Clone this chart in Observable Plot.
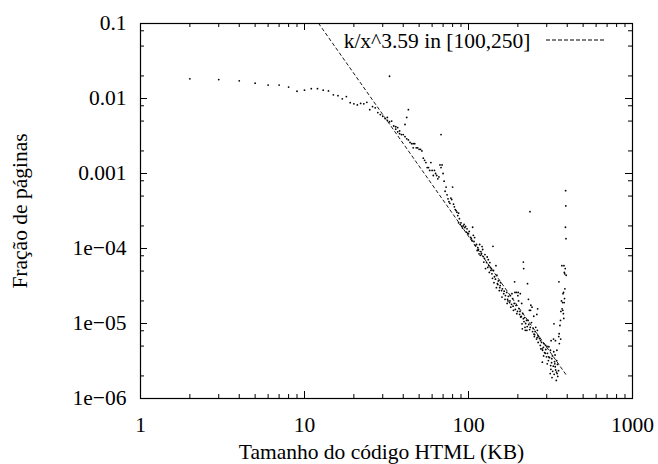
<!DOCTYPE html>
<html><head><meta charset="utf-8">
<script src="https://cdn.jsdelivr.net/npm/d3@7"></script>
<script src="https://cdn.jsdelivr.net/npm/@observablehq/plot@0.6"></script>
<style>
html,body{margin:0;padding:0;background:#fff;}
#chart svg, #chart svg text { font-family: "Liberation Serif", "Times New Roman", Times, "DejaVu Serif", "Noto Serif", serif !important; }
</style></head><body><div id="chart"></div>
<script>
// page size (KB) and fraction of pages
const sizeKB = [
  2,3,4,5,6,7,8,9,10,11,
  12,13,14,15,16,17,18,19,20,21,
  22,23,24,
  25,26,27,28,29,30,31,32,32,33,
  33,34,35,36,36,37,37,38,38,39,
  40,41,41,42,42,43,43,44,45,46,
  46,47,48,49,50,51,52,53,54,55,
  56,57,58,59,60,61,62,63,64,65,
  66,67,68,68,69,70,71,72,73,74,75,
  76,77,78,79,80,81,82,83,84,85,
  86,87,87,88,89,90,91,92,93,94,
  95,96,97,98,99,
  100,101,103,104,105,106,107,108,109,110,
  112,113,114,115,116,117,118,119,120,121,
  122,123,124,125,126,127,129,130,131,132,
  133,134,135,136,137,138,139,140,141,142,
  143,144,146,147,148,149,150,151,152,154,
  155,156,157,159,160,161,164,165,167,168,
  171,172,173,174,175,178,179,180,181,183,
  184,186,187,188,190,191,192,193,195,196,
  197,199,200,201,202,203,205,206,207,208,
  210,211,212,213,214,216,216,217,218,220,
  221,222,223,226,227,228,229,231,232,233,
  235,236,237,238,239,240,242,244,246,248,
  250,251,252,253,255,257,260,261,262,263,
  264,265,266,268,271,274,275,276,279,281,
  282,283,286,287,288,291,294,295,296,299,
  301,302,303,307,308,309,312,315,316,317,
  318,319,321,322,323,325,326,329,330,331,
  332,333,335,336,337,338,339,340,343,344,
  345,346,347,349,350,354,355,356,357,358,
  361,364,365,366,369,371,372,375,376,377,
  379,380,381,382,383,384,385,386,387,389,
  390,391,392,393,394
];
const fraction = [
  0.0183,0.0179,0.0172,0.016,0.0151,0.0151,0.0142,0.0125,0.0129,0.0135,
  0.0135,0.0129,0.0126,0.0112,0.0109,0.0099,0.0106,0.0088,0.0085,0.0082,
  0.0086,0.0085,0.0089,
  0.0071,0.0078,0.0075,0.0065,0.0061,0.0058,0.0054,0.0056,0.0051,0.0049,
  0.0198,0.005,0.0043,0.0042,0.0039,0.0041,0.0036,0.0037,0.0034,0.0033,
  0.0033,0.0031,0.0045,0.0056,0.0029,0.0071,0.0028,0.0026,0.0025,0.0025,
  0.0022,0.0025,0.0022,0.0022,0.0021,0.0021,0.002,0.0016,0.0015,0.0014,
  0.0012,0.0012,0.0011,0.0014,0.0011,0.00094,0.0011,0.001,0.00094,0.00085,
  0.0009,0.0013,0.0012,0.0033,0.0013,0.001,0.00079,0.00058,0.00066,0.00052,0.00046,
  0.00042,0.0004,0.00047,0.00045,0.00066,0.00039,0.00036,0.00033,0.00032,0.000305,
  0.000275,0.000296,0.00022,0.00025,0.00021,0.00022,0.000197,0.000187,0.0002,0.00021,
  0.00019,0.000197,0.000165,0.000183,0.00016,
  1.57e-4,1.69e-4,1.41e-4,1.36e-4,1.28e-4,1.92e-4,1.5e-4,1.24e-4,1.4e-4,1.1e-4,
  1.13e-4,9.4e-5,1.03e-4,9.7e-5,8.5e-5,1.13e-4,8.1e-5,9.1e-5,8.6e-5,1.06e-4,
  9.7e-5,7.8e-5,6.6e-5,7.4e-5,8.3e-5,5.4e-5,6.5e-5,7.7e-5,5.6e-5,7.1e-5,
  5.9e-5,4.8e-5,6.5e-5,5.6e-5,5.1e-5,5.4e-5,4.6e-5,4.0e-5,1.07e-4,5.1e-5,
  3.5e-5,4.2e-5,3.9e-5,5.9e-5,3.0e-5,4.4e-5,3.4e-5,3.3e-5,3.7e-5,2.75e-5,
  3.0e-5,3.2e-5,3.5e-5,2.75e-5,2.25e-5,2.9e-5,2.5e-5,2.7e-5,2.1e-5,2.36e-5,
  2.6e-5,1.85e-5,2.1e-5,2.0e-5,2.3e-5,1.9e-5,2.0e-5,2.35e-5,1.65e-5,1.8e-5,
  2.5e-5,2.15e-5,1.7e-5,1.5e-5,1.85e-5,3.6e-5,2.6e-5,1.54e-5,1.74e-5,2.6e-5,
  1.35e-5,1.45e-5,2.35e-5,2.6e-5,2.0e-5,1.58e-5,1.32e-5,1.45e-5,2.5e-5,1.22e-5,
  1.24e-5,1.85e-5,9.9e-6,8.5e-6,1.36e-5,1.16e-5,6.6e-5,5.4e-5,1.06e-5,1.2e-5,
  8.9e-6,8.1e-6,1.0e-5,1.1e-5,8.1e-6,9.1e-6,3.4e-5,1.1e-5,2.1e-5,9.7e-6,
  1.5e-5,8.3e-6,3.1e-4,8.9e-6,1.5e-5,1.75e-5,1.03e-5,1.65e-5,7.8e-6,8.6e-6,
  1.25e-5,7.2e-6,6.7e-6,7.1e-6,7.8e-6,8.9e-6,6.2e-6,1.32e-5,6.5e-6,8.1e-6,
  1.57e-5,6.9e-6,5.6e-6,6.7e-6,6.3e-6,5.1e-6,5.9e-6,4.6e-6,5.6e-6,4.6e-6,
  3.05e-6,4.4e-6,4.8e-6,3.7e-6,5.4e-6,4.1e-6,4.0e-6,5.1e-6,4.5e-6,3.6e-6,
  4.95e-6,2.9e-6,4.0e-6,3.2e-6,3.6e-6,4.9e-6,3.5e-6,2.15e-6,4.4e-6,2.75e-6,
  2.45e-6,5.9e-6,3.0e-6,3.4e-6,1.9e-6,3.7e-6,2.3e-6,2.7e-6,6.2e-6,4.2e-6,
  9.9e-6,2.1e-6,3.1e-6,2.9e-6,3.8e-6,2.65e-6,5.9e-6,2.4e-6,1.74e-6,2.25e-6,
  3.2e-6,4.4e-6,2.15e-6,2.85e-6,1.97e-6,2.35e-6,6.7e-6,3.6e-5,7.3e-6,5.4e-6,
  9.4e-6,1.1e-5,6.2e-6,1.45e-5,2.0e-5,5.9e-5,1.57e-5,1.9e-5,1.5e-5,2.5e-5,
  1.35e-5,2.6e-5,1.17e-5,5.9e-5,1.9e-5,4.8e-5,2.15e-5,4.6e-5,2.9e-5,5.4e-5,
  1.92e-4,5.9e-4,3.7e-4,1.35e-4,4.4e-5
];
// fitted power law line (as drawn), ends
const fitKB = [12.2, 392];
const fitFraction = [0.1, 2.1e-6];
const fitLabel = "k/x^3.59 in [100,250]";

const xMajorTicks = [1, 10, 100, 1000];
const xTickLabels = ["1", "10", "100", "1000"];
const xMinorTicks = [2,3,4,5,6,7,8,9,20,30,40,50,60,70,80,90,200,300,400,500,600,700,800,900];
const yMajorTicks = [1e-6, 1e-5, 1e-4, 1e-3, 1e-2, 1e-1];
const yTickLabels = ["1e\u221206", "1e\u221205", "1e\u221204", "0.001", "0.01", "0.1"];
const yMinorTicks = [2e-6,5e-6,8e-6,2e-5,5e-5,8e-5,2e-4,5e-4,8e-4,2e-3,5e-3,8e-3,2e-2,5e-2,8e-2];
const xTitle = "Tamanho do código HTML (KB)";
const yTitle = "Fração de páginas";

const points = sizeKB.map((x, i) => ({x, y: fraction[i]}));
const fit = fitKB.map((x, i) => ({x, y: fitFraction[i]}));
const xLab = new Map(xMajorTicks.map((d, i) => [d, xTickLabels[i]]));
const yLab = new Map(yMajorTicks.map((d, i) => [d, yTickLabels[i]]));

const W = 658, H = 464, ML = 140, MR = 26, MT = 23, MB = 66;
const FW = W - ML - MR, FH = H - MT - MB;
const FS = 21.5;
const FONT = "'Liberation Serif', 'Times New Roman', Times, 'DejaVu Serif', serif";

const chart = Plot.plot({
  width: W, height: H,
  marginLeft: ML, marginRight: MR, marginTop: MT, marginBottom: MB,
  x: {type: "log", domain: [1, 1000], axis: null},
  y: {type: "log", domain: [1e-6, 0.1], axis: null},
  style: {fontFamily: FONT, fontSize: FS + "px", background: "#fff", color: "#000"},
  marks: [
    Plot.line(fit, {x: "x", y: "y", stroke: "#000", strokeWidth: 0.9, strokeDasharray: "3,3", clip: true}),
    Plot.dot(points, {x: "x", y: "y", r: 0.9, fill: "#000", stroke: null}),
    Plot.tickX(xMajorTicks, {x: d => d, insetTop: FH - 7, stroke: "#000"}),
    Plot.tickX(xMajorTicks, {x: d => d, insetBottom: FH - 7, stroke: "#000"}),
    Plot.tickX(xMinorTicks, {x: d => d, insetTop: FH - 4, stroke: "#000"}),
    Plot.tickX(xMinorTicks, {x: d => d, insetBottom: FH - 4, stroke: "#000"}),
    Plot.tickY(yMajorTicks, {y: d => d, insetRight: FW - 7, stroke: "#000"}),
    Plot.tickY(yMajorTicks, {y: d => d, insetLeft: FW - 7, stroke: "#000"}),
    Plot.tickY(yMinorTicks, {y: d => d, insetRight: FW - 4, stroke: "#000"}),
    Plot.tickY(yMinorTicks, {y: d => d, insetLeft: FW - 4, stroke: "#000"}),
    Plot.frame({stroke: "#000", strokeWidth: 1.2}),
    Plot.axisX({ticks: xMajorTicks, tickSize: 0, tickPadding: 18, tickFormat: d => xLab.get(d), label: null, fontSize: FS}),
    Plot.axisY({ticks: yMajorTicks, tickSize: 0, tickPadding: 14, tickFormat: d => yLab.get(d), label: null, fontSize: FS}),
    Plot.text([yTitle], {frameAnchor: "left", dx: -120, rotate: -90, textAnchor: "middle", lineAnchor: "middle", fontSize: FS}),
    Plot.text([xTitle], {frameAnchor: "bottom", dx: -5, dy: 54, textAnchor: "middle", lineAnchor: "middle", fontSize: FS}),
    Plot.text([fitLabel], {frameAnchor: "top-right", dx: -102, dy: 18, textAnchor: "end", lineAnchor: "middle", fontSize: FS})
  ]
});
document.getElementById("chart").appendChild(chart);
// legend sample for the fitted line
d3.select(chart).append("line")
  .attr("x1", W - MR - 86).attr("x2", W - MR - 26)
  .attr("y1", MT + 17).attr("y2", MT + 17)
  .attr("stroke", "#000").attr("stroke-width", 1).attr("stroke-dasharray", "4,2");
</script>
</body></html>
